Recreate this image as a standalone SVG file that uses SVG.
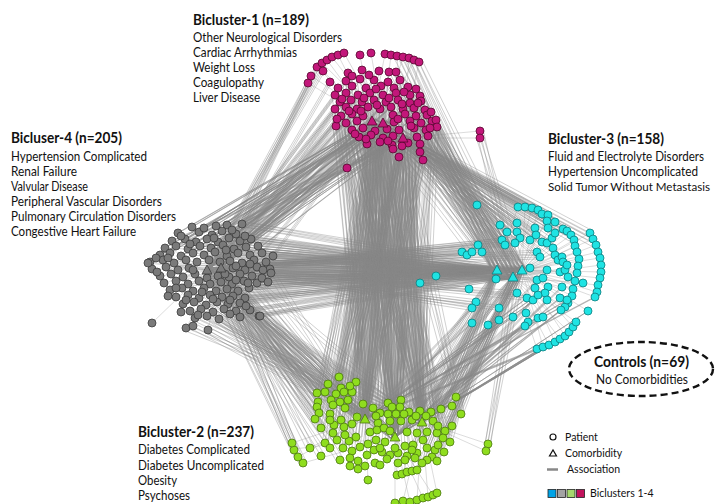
<svg xmlns="http://www.w3.org/2000/svg" width="717" height="504" viewBox="0 0 717 504">
<style>
text{font-family:Lato,"Liberation Sans",sans-serif;fill:#111}
.h{font-weight:bold;font-size:14.5px}
.t{font-size:12.5px}
.lg{font-size:10.5px}
.e{fill:none;stroke:#888;stroke-width:.75;stroke-opacity:.52}
.i{fill:none;stroke:#b0b0b0;stroke-width:.6;stroke-opacity:.75}
#bicluster-1 circle,#bicluster-1 polygon{fill:#c2177a;stroke:#55092f;stroke-width:.8}
#bicluster-2 circle,#bicluster-2 polygon{fill:#8fdd1e;stroke:#4b7712;stroke-width:.8}
#bicluster-3 circle,#bicluster-3 polygon{fill:#1fe3e3;stroke:#0d7c7d;stroke-width:.8}
#bicluster-4 circle,#bicluster-4 polygon{fill:#7a7a7a;stroke:#3c3c3c;stroke-width:.8}
</style>
<rect width="717" height="504" fill="#fff"/>
<g id="connectors">
<path class="i" d="M308 83L372 121M311 76L383 123M317 67L372 121M322 63L383 123M327 60L372 121M332 57L383 123M338 55L372 121M344 53L383 123M360 55L372 121M371 53L383 123M385 54L372 121M391 55L383 123M397 56L403 138M403 57L383 123M409 58L403 138M414 60L383 123M419 62L403 138M323 71L372 121M330 82L383 123M348 73L372 121M362 70L383 123M379 71L372 121M389 72L383 123M396 72L403 138M480 131L403 138M480 138L403 138M436 120L403 138M437 127L383 123
M590 233L522 270M593 239L522 270M596 245L513 277M598 252L522 270M600 258L522 270M601 265L513 277M601 272L522 270M600 278L522 270M598 285L513 277M597 292L522 270M595 297L522 270M537 349L513 277M543 347L522 270M549 345L513 277M555 342L522 270M560 339L513 277M565 336L522 270M569 332L513 277M573 327L522 270M576 322L513 277M518 207L497 270M525 207L522 270M532 208L513 277M538 210L522 270M542 214L497 270M548 215L522 270M547 221L513 277M555 222L522 270M563 229L522 270M567 231L513 277M571 235L522 270M574 240L522 270M575 246L513 277M577 252L522 270M579 259L522 270M578 266L513 277M577 273L522 270M575 281L522 270M573 289L513 277M572 296L522 270M568 303L522 270M565 307L513 277M561 310L522 270M583 283L513 277M588 311L522 270
M397 475L395 437M402 474L422 422M407 472L395 437M412 471L422 422M417 470L395 437M395 503L395 437M403 501L422 422M410 502L395 437M417 500L422 422M423 498L395 437M428 497L422 422M433 495L395 437M437 493L422 422M368 480L365 419M488 444L422 422M486 451L422 422M292 443L365 419M294 449L395 437M298 457L365 419M303 463L395 437M310 448L365 419M456 397L422 422M461 414L422 422
M150 262L207 270M152 269L221 268M148 263L207 270M152 323L207 270M160 276L221 268M164 283L207 270M186 328L221 268M193 326L207 270M208 330L221 268M160 255L207 270M165 248L221 268M273 256L207 270M271 273L221 268M260 316L207 270"/>
<path id="mesh" class="e" d="M242 224L497 270M236 234L513 277M251 239L522 270M258 246L497 270M262 253L513 277M266 262L497 270M270 269L522 270M273 256L497 270M271 273L513 277M252 276L497 270M257 283L522 270M249 288L497 270M245 298L513 277M240 303L497 270M250 310L522 270M259 316L497 270M240 317L513 277M227 256L497 270M238 253L522 270M230 261L497 270M242 263L513 277M254 260L497 270M245 270L522 270M257 267L497 270M229 277L513 277M240 274L497 270M232 284L522 270M238 291L497 270M233 296L513 277M246 247L497 270M234 249L522 270M223 245L497 270M218 276L513 277M221 282L497 270M227 289L522 270M200 246L497 270M204 255L513 277M193 253L497 270M183 277L522 270M188 284L497 270M176 246L513 277M166 267L497 270M174 263L522 270M199 281L497 270M210 284L513 277M216 291L497 270M222 297L522 270M206 305L497 270M229 238L513 277M212 235L497 270M242 224L522 270M251 239L497 270M262 253L497 270M252 276L522 270M240 303L513 277M250 310L497 270M259 316L513 277M245 298L497 270M249 288L513 277M257 283L497 270M266 262L513 277
M436 276L207 270M420 283L221 268M462 252L207 270M467 255L221 268M472 252L207 270M478 245L221 268M482 252L207 270M469 289L221 268M476 302L207 270M472 308L221 268M499 308L207 270M496 279L221 268M502 240L207 270M505 245L221 268M515 243L207 270M520 238L221 268M517 293L207 270M527 298L221 268M530 268L207 270M537 280L221 268M547 270L207 270M537 252L221 268M540 257L207 270
M192 227L372 121M227 225L383 123M242 224L403 138M178 233L372 121M199 232L383 123M212 235L403 138M222 231L372 121M236 234L383 123M172 241L403 138M185 239L372 121M196 242L383 123M207 239L403 138M218 242L372 121M229 238L383 123M240 241L403 138M251 239L372 121M165 248L383 123M176 246L403 138M188 249L372 121M200 246L383 123M211 248L403 138M223 245L372 121M234 249L383 123M246 247L403 138M258 246L372 121M160 255L383 123M181 256L403 138M204 255L372 121M227 256L383 123M250 255L403 138M262 253L372 121M273 256L372 121M150 262L372 121M170 253L383 123M193 253L403 138M215 252L372 121M238 253L383 123
M308 83L207 270M317 67L221 268M323 71L207 270M330 82L221 268M335 95L207 270M340 102L221 268M335 109L207 270M341 116L221 268M346 123L207 270M352 130L221 268M359 137L207 270M367 144L221 268M337 119L207 270M336 126L221 268M346 93L207 270M351 100L221 268M357 109L207 270M363 116L221 268M346 81L207 270M360 79L221 268M374 80L207 270M370 93L221 268M374 100L207 270M380 109L221 268M383 95L207 270M386 102L221 268M391 107L207 270M398 100L221 268M403 109L207 270M410 103L221 268M414 108L207 270M421 101L221 268M425 110L207 270M393 115L221 268M387 129L207 270M380 142L221 268M392 145L207 270M347 168L207 270M322 63L207 270M311 76L221 268
M240 303L365 419M250 310L395 437M259 316L422 422M240 317L365 419M219 319L395 437M207 316L365 419M195 318L422 422M224 309L365 419M236 311L395 437M213 312L365 419M228 304L422 422M217 302L365 419M245 298L395 437M233 296L365 419M222 297L422 422M249 288L365 419M238 291L395 437M227 289L365 419M257 283L422 422M244 281L365 419M232 284L395 437M252 276L365 419M271 273L365 419M260 316L395 437M208 330L365 419M186 328L422 422M193 326L365 419M206 305L395 437M210 295L365 419M216 291L422 422M199 298L365 419M188 295L395 437M201 309L365 419M190 311L422 422
M317 393L207 270M318 402L221 268M317 407L207 270M319 413L221 268M315 419L207 270M328 384L221 268M339 377L207 270M331 400L221 268M333 405L207 270M330 414L221 268M320 428L207 270M323 430L221 268M325 443L207 270M292 443L221 268M294 449L207 270M298 457L221 268M303 463L207 270M310 448L221 268M321 456L207 270M333 432L221 268M337 440L207 270M340 460L221 268M345 425L207 270M353 423L221 268M358 418L207 270M348 442L221 268M355 438L207 270M341 420L221 268M336 394L207 270M341 388L207 270
M346 81L365 419M360 79L422 422M374 80L395 437M388 82L365 419M400 80L422 422M338 88L395 437M352 86L365 419M366 88L422 422M381 86L395 437M394 88L365 419M408 87L422 422M335 95L395 437M346 93L365 419M358 95L422 422M370 93L395 437M383 95L365 419M396 93L422 422M410 95L395 437M420 96L365 419M340 102L422 422M351 100L395 437M362 102L365 419M374 100L422 422M386 102L395 437M398 100L365 419M410 103L422 422M421 101L395 437M335 109L365 419M346 107L422 422M357 109L395 437M368 107L365 419M380 109L422 422M391 107L395 437M403 109L365 419M414 108L422 422M425 110L395 437M341 116L365 419M352 114L422 422M363 116L395 437M393 115L365 419M405 114L422 422M416 116L395 437M427 115L365 419M346 123L422 422M357 121L395 437M394 122L365 419M410 121L422 422M421 123L395 437M432 121L365 419M352 130L422 422M363 128L395 437M375 131L365 419M387 129L422 422M399 130L395 437M414 128L365 419M426 130L422 422M359 137L395 437M371 135L365 419M383 138L422 422M393 136L395 437M417 137L365 419M428 136L422 422M367 144L395 437M380 142L365 419M392 145L422 422M408 143L395 437M420 144L365 419M436 120L422 422M437 127L395 437M393 149L365 419M399 157L422 422M420 152L395 437M423 160L365 419M347 168L422 422M336 126L365 419M337 119L395 437
M339 377L372 121M328 384L383 123M341 388L403 138M356 382L372 121M317 393L383 123M336 394L403 138M344 392L372 121M352 392L383 123M331 400L403 138M340 402L372 121M346 400L383 123M350 403L403 138M318 402L372 121M333 405L383 123M345 408L403 138M319 413L372 121M330 414L383 123M341 420L403 138M373 408L372 121M388 403L383 123M401 400L403 138M409 412L372 121M420 411L383 123M431 412L403 138M441 409L372 121M456 397L383 123M461 414L403 138M400 407L372 121M380 413L383 123M385 412L403 138M395 413L372 121M390 420L383 123M400 420L403 138M412 420L372 121M433 421L383 123M378 422L403 138M358 418L372 121M353 423L383 123M345 425L403 138M335 425L372 121M370 432L383 123M377 430L403 138M383 428L372 121M390 430L383 123M407 432L403 138M417 433L372 121M427 432L383 123M437 433L403 138M445 432L372 121M443 437L383 123M423 439L403 138M413 445L372 121M405 445L383 123M385 442L403 138M376 440L372 121M368 443L383 123M360 447L403 138M352 450L372 121M348 442L383 123M355 438L403 138M362 437L372 121M342 447L383 123M337 440L403 138M325 443L372 121M333 432L383 123M320 428L403 138
M477 205L372 121M500 225L383 123M507 232L403 138M517 223L372 121M517 232L383 123M518 207L403 138M525 207L372 121M532 208L383 123M538 210L403 138M542 214L372 121M548 215L383 123M535 228L403 138M548 228L372 121M555 233L383 123M472 252L372 121M478 245L383 123M502 240L372 121M505 245L383 123M515 243L403 138M520 238L372 121M530 240L383 123M536 235L403 138M542 242L372 121M547 243L383 123M552 238L403 138M563 229L372 121M567 231L383 123M571 235L403 138M574 240L372 121M590 233L383 123M593 239L403 138M596 245L372 121M537 252L383 123M540 257L403 138M553 248L372 121M555 255L383 123M547 221L403 138M555 222L372 121
M414 108L497 270M425 110L513 277M427 115L522 270M432 121L497 270M426 130L513 277M428 136L522 270M420 144L497 270M436 120L513 277M437 127L522 270M417 137L497 270M421 123L513 277M410 121L522 270M405 114L497 270M416 116L513 277M421 101L522 270M410 95L497 270M420 96L513 277M414 128L522 270M408 143L497 270M399 130L513 277M393 136L522 270M409 58L497 270M414 60L513 277M419 62L522 270M403 57L497 270M397 56L513 277M396 72L522 270M389 72L497 270M408 87L513 277M394 88L522 270M398 100L497 270M410 103L513 277M423 160L522 270M420 152L497 270M480 131L513 277M480 138L522 270M400 80L497 270M388 82L513 277M386 102L522 270M387 129L497 270
M472 323L365 419M488 325L422 422M499 320L395 437M513 317L365 419M526 313L422 422M528 322L395 437M525 326L365 419M538 318L422 422M543 317L395 437M537 349L365 419M543 347L422 422M549 345L395 437M555 342L365 419M560 339L422 422M476 302L395 437M472 308L365 419M499 308L422 422M517 293L395 437M527 298L365 419M533 300L422 422M538 295L395 437M545 293L365 419M547 300L422 422M560 298L395 437M567 300L365 419M565 307L422 422M561 310L395 437M568 303L365 419M496 279L422 422M537 280L395 437M548 287L365 419M562 287L422 422M588 311L395 437M595 297L365 419M565 336L422 422M569 332L395 437
M456 397L497 270M461 414L513 277M441 409L522 270M431 412L497 270M420 411L513 277M409 412L522 270M433 421L497 270M445 432L513 277M443 437L522 270M450 441L497 270M437 433L513 277M427 432L522 270M417 433L497 270M488 444L513 277M486 451L522 270M401 400L497 270M388 403L513 277M400 407L497 270M412 420L513 277M423 439L522 270M413 445L497 270M435 450L513 277M438 446L522 270M427 448L497 270M432 457L513 277M437 460L522 270M428 457L497 270M436 461L513 277M437 452L522 270M420 465L497 270M390 430L513 277M407 432L497 270"/>
<use href="#mesh" transform="translate(3,-2)"/>
<use href="#mesh" transform="translate(-3,2)"/>
</g>
<g id="bicluster-1">
<circle cx="308" cy="83" r="4"/><circle cx="311" cy="76" r="4"/><circle cx="317" cy="67" r="4"/><circle cx="322" cy="63" r="4"/><circle cx="327" cy="60" r="4"/><circle cx="332" cy="57" r="4"/><circle cx="338" cy="55" r="4"/><circle cx="344" cy="53" r="4"/><circle cx="360" cy="55" r="4"/><circle cx="371" cy="53" r="4"/><circle cx="385" cy="54" r="4"/><circle cx="391" cy="55" r="4"/><circle cx="397" cy="56" r="4"/><circle cx="403" cy="57" r="4"/><circle cx="409" cy="58" r="4"/><circle cx="414" cy="60" r="4"/><circle cx="419" cy="62" r="4"/>
<circle cx="323" cy="71" r="4"/><circle cx="330" cy="82" r="4"/><circle cx="348" cy="73" r="4"/><circle cx="362" cy="70" r="4"/><circle cx="379" cy="71" r="4"/><circle cx="389" cy="72" r="4"/><circle cx="396" cy="72" r="4"/>
<circle cx="346" cy="81" r="4"/><circle cx="360" cy="79" r="4"/><circle cx="374" cy="80" r="4"/><circle cx="388" cy="82" r="4"/><circle cx="400" cy="80" r="4"/>
<circle cx="338" cy="88" r="4"/><circle cx="352" cy="86" r="4"/><circle cx="366" cy="88" r="4"/><circle cx="381" cy="86" r="4"/><circle cx="394" cy="88" r="4"/><circle cx="408" cy="87" r="4"/>
<circle cx="335" cy="95" r="4"/><circle cx="346" cy="93" r="4"/><circle cx="358" cy="95" r="4"/><circle cx="370" cy="93" r="4"/><circle cx="383" cy="95" r="4"/><circle cx="396" cy="93" r="4"/><circle cx="410" cy="95" r="4"/><circle cx="420" cy="96" r="4"/>
<circle cx="340" cy="102" r="4"/><circle cx="351" cy="100" r="4"/><circle cx="362" cy="102" r="4"/><circle cx="374" cy="100" r="4"/><circle cx="386" cy="102" r="4"/><circle cx="398" cy="100" r="4"/><circle cx="410" cy="103" r="4"/><circle cx="421" cy="101" r="4"/>
<circle cx="335" cy="109" r="4"/><circle cx="346" cy="107" r="4"/><circle cx="357" cy="109" r="4"/><circle cx="368" cy="107" r="4"/><circle cx="380" cy="109" r="4"/><circle cx="391" cy="107" r="4"/><circle cx="403" cy="109" r="4"/><circle cx="414" cy="108" r="4"/><circle cx="425" cy="110" r="4"/>
<circle cx="341" cy="116" r="4"/><circle cx="352" cy="114" r="4"/><circle cx="363" cy="116" r="4"/><circle cx="393" cy="115" r="4"/><circle cx="405" cy="114" r="4"/><circle cx="416" cy="116" r="4"/><circle cx="427" cy="115" r="4"/>
<circle cx="346" cy="123" r="4"/><circle cx="357" cy="121" r="4"/><circle cx="394" cy="122" r="4"/><circle cx="410" cy="121" r="4"/><circle cx="421" cy="123" r="4"/><circle cx="432" cy="121" r="4"/>
<circle cx="352" cy="130" r="4"/><circle cx="363" cy="128" r="4"/><circle cx="375" cy="131" r="4"/><circle cx="387" cy="129" r="4"/><circle cx="399" cy="130" r="4"/><circle cx="414" cy="128" r="4"/><circle cx="426" cy="130" r="4"/>
<circle cx="359" cy="137" r="4"/><circle cx="371" cy="135" r="4"/><circle cx="383" cy="138" r="4"/><circle cx="393" cy="136" r="4"/><circle cx="417" cy="137" r="4"/><circle cx="428" cy="136" r="4"/>
<circle cx="367" cy="144" r="4"/><circle cx="380" cy="142" r="4"/><circle cx="392" cy="145" r="4"/><circle cx="408" cy="143" r="4"/><circle cx="420" cy="144" r="4"/>
<circle cx="436" cy="120" r="4"/><circle cx="437" cy="127" r="4"/><circle cx="480" cy="131" r="4"/><circle cx="480" cy="138" r="4"/><circle cx="347" cy="168" r="4"/><circle cx="393" cy="149" r="4"/><circle cx="399" cy="157" r="4"/><circle cx="420" cy="152" r="4"/><circle cx="423" cy="160" r="4"/><circle cx="336" cy="126" r="4"/><circle cx="337" cy="119" r="4"/>
<circle cx="352" cy="76" r="4"/><circle cx="369" cy="75" r="4"/><circle cx="342" cy="99" r="4"/><circle cx="364" cy="98" r="4"/><circle cx="377" cy="105" r="4"/><circle cx="389" cy="98" r="4"/><circle cx="402" cy="104" r="4"/><circle cx="349" cy="111" r="4"/><circle cx="361" cy="111" r="4"/><circle cx="398" cy="119" r="4"/><circle cx="411" cy="126" r="4"/><circle cx="355" cy="134" r="4"/><circle cx="366" cy="139" r="4"/><circle cx="388" cy="141" r="4"/><circle cx="402" cy="146" r="4"/><circle cx="431" cy="112" r="4"/><circle cx="418" cy="103" r="4"/><circle cx="430" cy="128" r="4"/><circle cx="376" cy="89" r="4"/><circle cx="404" cy="92" r="4"/><circle cx="416" cy="89" r="4"/>
<polygon points="367,125 377,125 372,116"/><polygon points="378,127 388,127 383,118"/><polygon points="398,142 408,142 403,133"/>
<text class="h" x="193" y="25" textLength="116" lengthAdjust="spacingAndGlyphs">Bicluster-1 (n=189)</text>
<text class="t" x="193" y="42" textLength="149" lengthAdjust="spacingAndGlyphs">Other Neurological Disorders</text>
<text class="t" x="193" y="57" textLength="104" lengthAdjust="spacingAndGlyphs">Cardiac Arrhythmias</text>
<text class="t" x="193" y="72" textLength="62" lengthAdjust="spacingAndGlyphs">Weight Loss</text>
<text class="t" x="193" y="87" textLength="71" lengthAdjust="spacingAndGlyphs">Coagulopathy</text>
<text class="t" x="193" y="102" textLength="67" lengthAdjust="spacingAndGlyphs">Liver Disease</text>
</g>
<g id="bicluster-4">
<circle cx="192" cy="227" r="4"/><circle cx="227" cy="225" r="4"/><circle cx="242" cy="224" r="4"/>
<circle cx="178" cy="233" r="4"/><circle cx="199" cy="232" r="4"/><circle cx="212" cy="235" r="4"/><circle cx="222" cy="231" r="4"/><circle cx="236" cy="234" r="4"/>
<circle cx="172" cy="241" r="4"/><circle cx="185" cy="239" r="4"/><circle cx="196" cy="242" r="4"/><circle cx="207" cy="239" r="4"/><circle cx="218" cy="242" r="4"/><circle cx="229" cy="238" r="4"/><circle cx="240" cy="241" r="4"/><circle cx="251" cy="239" r="4"/>
<circle cx="165" cy="248" r="4"/><circle cx="176" cy="246" r="4"/><circle cx="188" cy="249" r="4"/><circle cx="200" cy="246" r="4"/><circle cx="211" cy="248" r="4"/><circle cx="223" cy="245" r="4"/><circle cx="234" cy="249" r="4"/><circle cx="246" cy="247" r="4"/><circle cx="258" cy="246" r="4"/>
<circle cx="160" cy="255" r="4"/><circle cx="170" cy="253" r="4"/><circle cx="181" cy="256" r="4"/><circle cx="193" cy="253" r="4"/><circle cx="204" cy="255" r="4"/><circle cx="215" cy="252" r="4"/><circle cx="227" cy="256" r="4"/><circle cx="238" cy="253" r="4"/><circle cx="250" cy="255" r="4"/><circle cx="262" cy="253" r="4"/>
<circle cx="150" cy="262" r="4"/><circle cx="163" cy="260" r="4"/><circle cx="174" cy="263" r="4"/><circle cx="186" cy="260" r="4"/><circle cx="197" cy="262" r="4"/><circle cx="230" cy="261" r="4"/><circle cx="242" cy="263" r="4"/><circle cx="254" cy="260" r="4"/><circle cx="266" cy="262" r="4"/>
<circle cx="152" cy="269" r="4"/><circle cx="166" cy="267" r="4"/><circle cx="178" cy="270" r="4"/><circle cx="189" cy="268" r="4"/><circle cx="233" cy="268" r="4"/><circle cx="245" cy="270" r="4"/><circle cx="257" cy="267" r="4"/><circle cx="270" cy="269" r="4"/>
<circle cx="160" cy="276" r="4"/><circle cx="171" cy="274" r="4"/><circle cx="183" cy="277" r="4"/><circle cx="195" cy="274" r="4"/><circle cx="207" cy="278" r="4"/><circle cx="218" cy="276" r="4"/><circle cx="229" cy="277" r="4"/><circle cx="240" cy="274" r="4"/><circle cx="252" cy="276" r="4"/>
<circle cx="164" cy="283" r="4"/><circle cx="176" cy="281" r="4"/><circle cx="188" cy="284" r="4"/><circle cx="199" cy="281" r="4"/><circle cx="210" cy="284" r="4"/><circle cx="221" cy="282" r="4"/><circle cx="232" cy="284" r="4"/><circle cx="244" cy="281" r="4"/><circle cx="257" cy="283" r="4"/>
<circle cx="170" cy="290" r="4"/><circle cx="182" cy="288" r="4"/><circle cx="193" cy="291" r="4"/><circle cx="204" cy="288" r="4"/><circle cx="216" cy="291" r="4"/><circle cx="227" cy="289" r="4"/><circle cx="238" cy="291" r="4"/><circle cx="249" cy="288" r="4"/>
<circle cx="176" cy="297" r="4"/><circle cx="188" cy="295" r="4"/><circle cx="199" cy="298" r="4"/><circle cx="210" cy="295" r="4"/><circle cx="222" cy="297" r="4"/><circle cx="233" cy="296" r="4"/><circle cx="245" cy="298" r="4"/>
<circle cx="183" cy="304" r="4"/><circle cx="194" cy="302" r="4"/><circle cx="206" cy="305" r="4"/><circle cx="217" cy="302" r="4"/><circle cx="228" cy="304" r="4"/><circle cx="240" cy="303" r="4"/>
<circle cx="190" cy="311" r="4"/><circle cx="201" cy="309" r="4"/><circle cx="213" cy="312" r="4"/><circle cx="224" cy="309" r="4"/><circle cx="236" cy="311" r="4"/><circle cx="250" cy="310" r="4"/>
<circle cx="195" cy="318" r="4"/><circle cx="207" cy="316" r="4"/><circle cx="219" cy="319" r="4"/><circle cx="240" cy="317" r="4"/><circle cx="259" cy="316" r="4"/>
<circle cx="186" cy="328" r="4"/><circle cx="208" cy="330" r="4"/><circle cx="152" cy="323" r="4"/><circle cx="273" cy="256" r="4"/><circle cx="271" cy="273" r="4"/><circle cx="148" cy="263" r="4"/><circle cx="181" cy="312" r="4"/><circle cx="193" cy="326" r="4"/><circle cx="260" cy="316" r="4"/>
<circle cx="181" cy="236" r="4"/><circle cx="204" cy="228" r="4"/><circle cx="216" cy="226" r="4"/><circle cx="232" cy="230" r="4"/><circle cx="190" cy="244" r="4"/><circle cx="214" cy="238" r="4"/><circle cx="226" cy="250" r="4"/><circle cx="245" cy="236" r="4"/><circle cx="168" cy="258" r="4"/><circle cx="209" cy="260" r="4"/><circle cx="220" cy="262" r="4"/><circle cx="236" cy="266" r="4"/><circle cx="250" cy="264" r="4"/><circle cx="263" cy="270" r="4"/><circle cx="157" cy="272" r="4"/><circle cx="176" cy="288" r="4"/><circle cx="193" cy="270" r="4"/><circle cx="225" cy="274" r="4"/><circle cx="236" cy="280" r="4"/><circle cx="248" cy="283" r="4"/><circle cx="262" cy="278" r="4"/><circle cx="186" cy="300" r="4"/><circle cx="202" cy="292" r="4"/><circle cx="213" cy="299" r="4"/><circle cx="230" cy="300" r="4"/><circle cx="198" cy="315" r="4"/><circle cx="230" cy="314" r="4"/><circle cx="246" cy="306" r="4"/><circle cx="168" cy="296" r="4"/><circle cx="156" cy="258" r="4"/><circle cx="268" cy="282" r="4"/>
<polygon points="202,274 212,274 207,265"/><polygon points="216,272 226,272 221,263"/>
<text class="h" x="11" y="143" textLength="111" lengthAdjust="spacingAndGlyphs">Bicluser-4 (n=205)</text>
<text class="t" x="11" y="161" textLength="136" lengthAdjust="spacingAndGlyphs">Hypertension Complicated</text>
<text class="t" x="11" y="176" textLength="66" lengthAdjust="spacingAndGlyphs">Renal Failure</text>
<text class="t" x="11" y="191" textLength="77" lengthAdjust="spacingAndGlyphs">Valvular Disease</text>
<text class="t" x="11" y="206" textLength="151" lengthAdjust="spacingAndGlyphs">Peripheral Vascular Disorders</text>
<text class="t" x="11" y="221" textLength="165" lengthAdjust="spacingAndGlyphs">Pulmonary Circulation Disorders</text>
<text class="t" x="11" y="236" textLength="125" lengthAdjust="spacingAndGlyphs">Congestive Heart Failure</text>
</g>
<g id="bicluster-3">
<circle cx="590" cy="233" r="4"/><circle cx="593" cy="239" r="4"/><circle cx="596" cy="245" r="4"/><circle cx="598" cy="252" r="4"/><circle cx="600" cy="258" r="4"/><circle cx="601" cy="265" r="4"/><circle cx="601" cy="272" r="4"/><circle cx="600" cy="278" r="4"/><circle cx="598" cy="285" r="4"/><circle cx="597" cy="292" r="4"/><circle cx="595" cy="297" r="4"/>
<circle cx="537" cy="349" r="4"/><circle cx="543" cy="347" r="4"/><circle cx="549" cy="345" r="4"/><circle cx="555" cy="342" r="4"/><circle cx="560" cy="339" r="4"/><circle cx="565" cy="336" r="4"/><circle cx="569" cy="332" r="4"/><circle cx="573" cy="327" r="4"/><circle cx="576" cy="322" r="4"/>
<circle cx="518" cy="207" r="4"/><circle cx="525" cy="207" r="4"/><circle cx="532" cy="208" r="4"/><circle cx="538" cy="210" r="4"/><circle cx="542" cy="214" r="4"/><circle cx="548" cy="215" r="4"/><circle cx="547" cy="221" r="4"/><circle cx="555" cy="222" r="4"/>
<circle cx="563" cy="229" r="4"/><circle cx="567" cy="231" r="4"/><circle cx="571" cy="235" r="4"/><circle cx="574" cy="240" r="4"/><circle cx="575" cy="246" r="4"/><circle cx="577" cy="252" r="4"/><circle cx="579" cy="259" r="4"/><circle cx="578" cy="266" r="4"/><circle cx="577" cy="273" r="4"/><circle cx="575" cy="281" r="4"/><circle cx="573" cy="289" r="4"/><circle cx="572" cy="296" r="4"/><circle cx="568" cy="303" r="4"/><circle cx="565" cy="307" r="4"/><circle cx="561" cy="310" r="4"/>
<circle cx="477" cy="205" r="4"/><circle cx="500" cy="225" r="4"/><circle cx="507" cy="232" r="4"/><circle cx="517" cy="223" r="4"/><circle cx="517" cy="232" r="4"/><circle cx="520" cy="238" r="4"/><circle cx="502" cy="240" r="4"/><circle cx="505" cy="245" r="4"/><circle cx="515" cy="243" r="4"/><circle cx="535" cy="228" r="4"/>
<circle cx="462" cy="252" r="4"/><circle cx="467" cy="255" r="4"/><circle cx="472" cy="252" r="4"/><circle cx="478" cy="245" r="4"/><circle cx="482" cy="252" r="4"/><circle cx="436" cy="276" r="4"/><circle cx="420" cy="283" r="4"/><circle cx="496" cy="279" r="4"/><circle cx="469" cy="289" r="4"/><circle cx="476" cy="302" r="4"/><circle cx="472" cy="308" r="4"/><circle cx="499" cy="308" r="4"/><circle cx="472" cy="323" r="4"/><circle cx="488" cy="325" r="4"/><circle cx="499" cy="320" r="4"/><circle cx="513" cy="317" r="4"/><circle cx="517" cy="293" r="4"/><circle cx="527" cy="298" r="4"/><circle cx="533" cy="300" r="4"/><circle cx="526" cy="313" r="4"/><circle cx="528" cy="322" r="4"/><circle cx="525" cy="326" r="4"/><circle cx="538" cy="318" r="4"/><circle cx="543" cy="317" r="4"/>
<circle cx="530" cy="268" r="4"/><circle cx="537" cy="280" r="4"/><circle cx="543" cy="278" r="4"/><circle cx="547" cy="270" r="4"/><circle cx="537" cy="252" r="4"/><circle cx="540" cy="257" r="4"/><circle cx="542" cy="242" r="4"/><circle cx="547" cy="243" r="4"/><circle cx="552" cy="238" r="4"/><circle cx="553" cy="248" r="4"/><circle cx="555" cy="255" r="4"/><circle cx="558" cy="260" r="4"/><circle cx="562" cy="257" r="4"/><circle cx="563" cy="262" r="4"/><circle cx="560" cy="272" r="4"/><circle cx="565" cy="270" r="4"/><circle cx="567" cy="265" r="4"/><circle cx="568" cy="277" r="4"/><circle cx="562" cy="287" r="4"/><circle cx="548" cy="287" r="4"/><circle cx="545" cy="293" r="4"/><circle cx="547" cy="300" r="4"/><circle cx="538" cy="295" r="4"/><circle cx="535" cy="288" r="4"/><circle cx="560" cy="298" r="4"/><circle cx="567" cy="300" r="4"/><circle cx="583" cy="283" r="4"/><circle cx="588" cy="311" r="4"/><circle cx="548" cy="228" r="4"/><circle cx="555" cy="233" r="4"/><circle cx="530" cy="240" r="4"/><circle cx="536" cy="235" r="4"/>
<polygon points="492,274 502,274 497,265"/><polygon points="508,281 518,281 513,272"/><polygon points="517,274 527,274 522,265"/>
<text class="h" x="548" y="144" textLength="116" lengthAdjust="spacingAndGlyphs">Bicluster-3 (n=158)</text>
<text class="t" x="548" y="161" textLength="156" lengthAdjust="spacingAndGlyphs">Fluid and Electrolyte Disorders</text>
<text class="t" x="548" y="176" textLength="150" lengthAdjust="spacingAndGlyphs">Hypertension Uncomplicated</text>
<text x="548" y="191" font-size="11.4" textLength="162" lengthAdjust="spacingAndGlyphs">Solid Tumor Without Metastasis</text>
</g>
<g id="bicluster-2">
<circle cx="339" cy="377" r="4"/><circle cx="328" cy="384" r="4"/><circle cx="341" cy="388" r="4"/><circle cx="356" cy="382" r="4"/><circle cx="317" cy="393" r="4"/><circle cx="336" cy="394" r="4"/><circle cx="344" cy="392" r="4"/><circle cx="352" cy="392" r="4"/><circle cx="331" cy="400" r="4"/><circle cx="340" cy="402" r="4"/><circle cx="348" cy="400" r="4"/><circle cx="318" cy="402" r="4"/><circle cx="317" cy="407" r="4"/><circle cx="333" cy="405" r="4"/><circle cx="345" cy="408" r="4"/><circle cx="319" cy="413" r="4"/><circle cx="315" cy="419" r="4"/><circle cx="330" cy="414" r="4"/><circle cx="341" cy="420" r="4"/>
<circle cx="373" cy="408" r="4"/><circle cx="388" cy="403" r="4"/><circle cx="401" cy="400" r="4"/><circle cx="409" cy="412" r="4"/><circle cx="420" cy="411" r="4"/><circle cx="431" cy="412" r="4"/><circle cx="441" cy="409" r="4"/><circle cx="456" cy="397" r="4"/><circle cx="461" cy="414" r="4"/><circle cx="400" cy="407" r="4"/><circle cx="380" cy="413" r="4"/><circle cx="388" cy="414" r="4"/><circle cx="396" cy="414" r="4"/><circle cx="390" cy="421" r="4"/><circle cx="401" cy="421" r="4"/><circle cx="412" cy="420" r="4"/><circle cx="433" cy="421" r="4"/><circle cx="378" cy="423" r="4"/><circle cx="357" cy="417" r="4"/><circle cx="352" cy="424" r="4"/><circle cx="344" cy="427" r="4"/><circle cx="334" cy="425" r="4"/><circle cx="333" cy="433" r="4"/><circle cx="321" cy="428" r="4"/>
<circle cx="325" cy="443" r="4"/><circle cx="337" cy="440" r="4"/><circle cx="343" cy="448" r="4"/><circle cx="349" cy="441" r="4"/><circle cx="356" cy="437" r="4"/><circle cx="370" cy="432" r="4"/><circle cx="377" cy="430" r="4"/><circle cx="384" cy="428" r="4"/><circle cx="390" cy="431" r="4"/><circle cx="407" cy="432" r="4"/><circle cx="417" cy="433" r="4"/><circle cx="427" cy="432" r="4"/><circle cx="437" cy="433" r="4"/><circle cx="445" cy="431" r="4"/><circle cx="443" cy="438" r="4"/><circle cx="450" cy="442" r="4"/><circle cx="423" cy="440" r="4"/><circle cx="413" cy="445" r="4"/><circle cx="405" cy="446" r="4"/><circle cx="385" cy="442" r="4"/><circle cx="376" cy="440" r="4"/><circle cx="368" cy="444" r="4"/><circle cx="360" cy="447" r="4"/><circle cx="352" cy="451" r="4"/>
<circle cx="350" cy="458" r="4"/><circle cx="358" cy="461" r="4"/><circle cx="367" cy="455" r="4"/><circle cx="374" cy="450" r="4"/><circle cx="382" cy="452" r="4"/><circle cx="390" cy="455" r="4"/><circle cx="398" cy="453" r="4"/><circle cx="407" cy="456" r="4"/><circle cx="417" cy="453" r="4"/><circle cx="427" cy="448" r="4"/><circle cx="435" cy="450" r="4"/><circle cx="438" cy="445" r="4"/><circle cx="432" cy="457" r="4"/><circle cx="427" cy="460" r="4"/><circle cx="422" cy="463" r="4"/><circle cx="437" cy="461" r="4"/><circle cx="350" cy="466" r="4"/><circle cx="358" cy="469" r="4"/><circle cx="340" cy="460" r="4"/><circle cx="321" cy="456" r="4"/><circle cx="310" cy="448" r="4"/><circle cx="303" cy="463" r="4"/><circle cx="298" cy="457" r="4"/><circle cx="294" cy="450" r="4"/><circle cx="292" cy="443" r="4"/><circle cx="488" cy="444" r="4"/><circle cx="486" cy="451" r="4"/><circle cx="368" cy="480" r="4"/><circle cx="375" cy="463" r="4"/><circle cx="387" cy="459" r="4"/><circle cx="398" cy="463" r="4"/><circle cx="405" cy="460" r="4"/>
<circle cx="325" cy="392" r="4"/><circle cx="350" cy="386" r="4"/><circle cx="363" cy="404" r="4"/><circle cx="376" cy="416" r="4"/><circle cx="392" cy="407" r="4"/><circle cx="404" cy="414" r="4"/><circle cx="416" cy="416" r="4"/><circle cx="426" cy="416" r="4"/><circle cx="438" cy="426" r="4"/><circle cx="452" cy="426" r="4"/><circle cx="330" cy="448" r="4"/><circle cx="345" cy="435" r="4"/><circle cx="380" cy="448" r="4"/><circle cx="395" cy="448" r="4"/><circle cx="412" cy="450" r="4"/><circle cx="444" cy="452" r="4"/><circle cx="415" cy="458" r="4"/><circle cx="365" cy="466" r="4"/><circle cx="380" cy="465" r="4"/><circle cx="330" cy="420" r="4"/><circle cx="452" cy="406" r="4"/>
<circle cx="397" cy="475" r="4"/><circle cx="402" cy="474" r="4"/><circle cx="407" cy="472" r="4"/><circle cx="412" cy="471" r="4"/><circle cx="417" cy="470" r="4"/><circle cx="395" cy="503" r="4"/><circle cx="403" cy="501" r="4"/><circle cx="410" cy="502" r="4"/><circle cx="417" cy="500" r="4"/><circle cx="423" cy="498" r="4"/><circle cx="428" cy="497" r="4"/><circle cx="433" cy="495" r="4"/><circle cx="437" cy="493" r="4"/>
<polygon points="360,423 370,423 365,414"/><polygon points="417,426 427,426 422,417"/><polygon points="390,441 400,441 395,432"/>
<text class="h" x="138" y="437" textLength="116" lengthAdjust="spacingAndGlyphs">Bicluster-2 (n=237)</text>
<text class="t" x="138" y="454" textLength="112" lengthAdjust="spacingAndGlyphs">Diabetes Complicated</text>
<text class="t" x="138" y="470" textLength="126" lengthAdjust="spacingAndGlyphs">Diabetes Uncomplicated</text>
<text class="t" x="138" y="485" textLength="39" lengthAdjust="spacingAndGlyphs">Obesity</text>
<text class="t" x="138" y="500" textLength="52" lengthAdjust="spacingAndGlyphs">Psychoses</text>
</g>
<g id="controls">
<ellipse cx="641" cy="369" rx="72" ry="27" fill="none" stroke="#111" stroke-width="2.4" stroke-dasharray="7 4"/>
<text class="h" x="594" y="367" textLength="95" lengthAdjust="spacingAndGlyphs">Controls (n=69)</text>
<text class="t" x="596" y="384" textLength="92" lengthAdjust="spacingAndGlyphs">No Comorbidities</text>
</g>
<g id="legend">
<circle cx="553" cy="437" r="3" fill="none" stroke="#111" stroke-width="1.2"/>
<text class="lg" x="565" y="441">Patient</text>
<polygon points="549.5,456 556.5,456 553,450" fill="none" stroke="#111" stroke-width="1.2"/>
<text class="lg" x="565" y="457">Comorbidity</text>
<line x1="547" y1="469.5" x2="558" y2="469.5" stroke="#888" stroke-width="2.5"/>
<text class="lg" x="567" y="473">Association</text>
<rect x="548" y="489.5" width="8" height="8" fill="#00a3e6" stroke="#222" stroke-width=".8"/>
<rect x="557.5" y="489.5" width="8" height="8" fill="#a3a3a3" stroke="#222" stroke-width=".8"/>
<rect x="567" y="489.5" width="8" height="8" fill="#a6d86e" stroke="#222" stroke-width=".8"/>
<rect x="576.5" y="489.5" width="8" height="8" fill="#c2135d" stroke="#222" stroke-width=".8"/>
<text class="lg" x="590" y="497">Biclusters 1-4</text>
</g>
</svg>
